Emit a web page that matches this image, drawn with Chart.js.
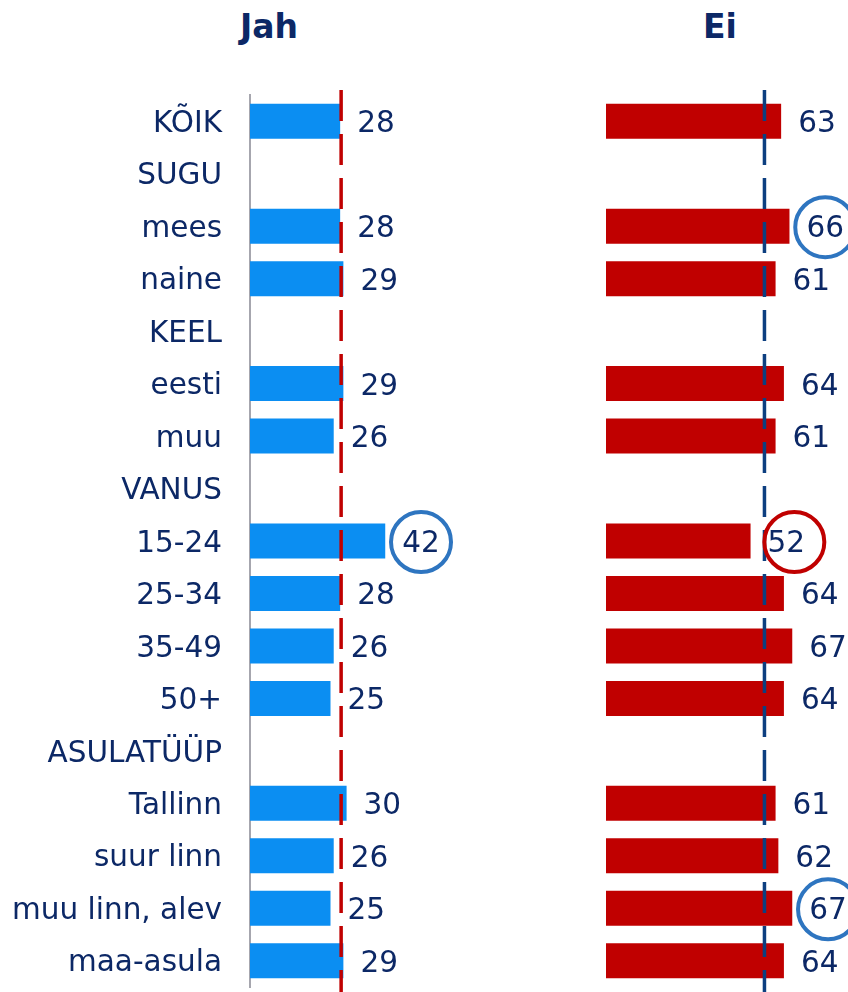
<!DOCTYPE html>
<html><head><meta charset="utf-8">
<script src="https://cdn.jsdelivr.net/npm/chart.js@4.4.0/dist/chart.umd.min.js"></script>
<style>
html,body{margin:0;padding:0;background:#fff;overflow:hidden;width:848px;height:992px;}
.title{position:absolute;top:10px;font-family:'DejaVu Sans',sans-serif;font-weight:bold;font-size:33px;line-height:33px;color:#0c2866;text-align:center;width:200px;}
#wl{position:absolute;left:0;top:0;width:572px;height:992px;}
#wr{position:absolute;left:606px;top:0;width:242px;height:992px;overflow:hidden;}
canvas{display:block;}
</style>
</head><body>
<div class="title" style="left:169px;">Jah</div>
<div class="title" style="left:620px;">Ei</div>
<div id="wl"><canvas id="cl" width="572" height="992"></canvas></div>
<div id="wr"><canvas id="cr" width="278" height="992"></canvas></div>
<script>
const categories = ['KÕIK','SUGU','mees','naine','KEEL','eesti','muu','VANUS','15-24','25-34','35-49','50+','ASULATÜÜP','Tallinn','suur linn','muu linn, alev','maa-asula'];
const jahValues = [28,null,28,29,null,29,26,null,42,28,26,25,null,30,26,25,29];
const eiValues  = [63,null,66,61,null,64,61,null,52,64,67,64,null,61,62,67,64];
const jahMarks = [null,null,null,null,null,null,null,null,'blue',null,null,null,null,null,null,null,null];
const eiMarks  = [null,null,'blue',null,null,null,null,null,'red',null,null,null,null,null,null,'blue',null];
const jahRef = 28.3;
const eiRef = 57;

const NAVY = '#0c2866';
const BLUE = '#0b8ef2';
const RED = '#c00000';
const RING = {blue:'#2e75c0', red:'#c00000'};
const FONT = "'DejaVu Sans', sans-serif";
const FS = 29.5;

function overlay(values, marks, refValue, refColor) {
  return {
    id: 'overlay',
    afterDatasetsDraw(chart) {
      const ctx = chart.ctx;
      const x = chart.scales.x.getPixelForValue(refValue);
      ctx.save();
      ctx.strokeStyle = refColor;
      ctx.lineWidth = 3.5;
      ctx.setLineDash([31, 13]);
      ctx.beginPath();
      ctx.moveTo(x, 90);
      ctx.lineTo(x, chart.height);
      ctx.stroke();
      ctx.restore();

      const meta = chart.getDatasetMeta(0);
      ctx.save();
      ctx.font = FS + 'px ' + FONT;
      ctx.fillStyle = NAVY;
      ctx.textAlign = 'left';
      ctx.textBaseline = 'alphabetic';
      meta.data.forEach((el, i) => {
        const v = values[i];
        if (v === null || v === undefined) return;
        const tx = el.x + 17;
        const txt = String(v);
        ctx.fillText(txt, tx, el.y + 11);
        if (marks[i]) {
          const w = ctx.measureText(txt).width;
          ctx.save();
          ctx.strokeStyle = RING[marks[i]];
          ctx.lineWidth = 4;
          ctx.beginPath();
          ctx.arc(tx + w / 2 + (marks[i] === 'red' ? 8 : 0), el.y + 1, 30, 0, Math.PI * 2);
          ctx.stroke();
          ctx.restore();
        }
      });
      ctx.restore();
    }
  };
}

new Chart(document.getElementById('cl'), {
  type: 'bar',
  data: { labels: categories, datasets: [{ data: jahValues, backgroundColor: BLUE, barPercentage: 1, categoryPercentage: 0.667 }] },
  options: {
    indexAxis: 'y', responsive: false, animation: false,
    layout: { padding: { top: 95, bottom: 5, left: 0, right: 0 } },
    plugins: { legend: { display: false }, tooltip: { enabled: false } },
    scales: {
      x: { min: 0, max: 100, display: false },
      y: {
        afterFit(s) { s.width = 250; s.paddingTop = 0; s.paddingBottom = 0; },
        grid: { display: false, drawTicks: false },
        border: { display: true, color: '#a6a6ae', width: 2 },
        ticks: { color: NAVY, font: { family: FONT, size: FS }, padding: 28, autoSkip: false, labelOffset: 3 }
      }
    }
  },
  plugins: [overlay(jahValues, jahMarks, jahRef, RED)]
});

new Chart(document.getElementById('cr'), {
  type: 'bar',
  data: { labels: categories, datasets: [{ data: eiValues, backgroundColor: RED, barPercentage: 1, categoryPercentage: 0.667 }] },
  options: {
    indexAxis: 'y', responsive: false, animation: false,
    layout: { padding: { top: 95, bottom: 5, left: 0, right: 0 } },
    plugins: { legend: { display: false }, tooltip: { enabled: false } },
    scales: {
      x: { min: 0, max: 100, display: false },
      y: { display: false }
    }
  },
  plugins: [overlay(eiValues, eiMarks, eiRef, '#0d3f80')]
});
</script>
</body></html>
